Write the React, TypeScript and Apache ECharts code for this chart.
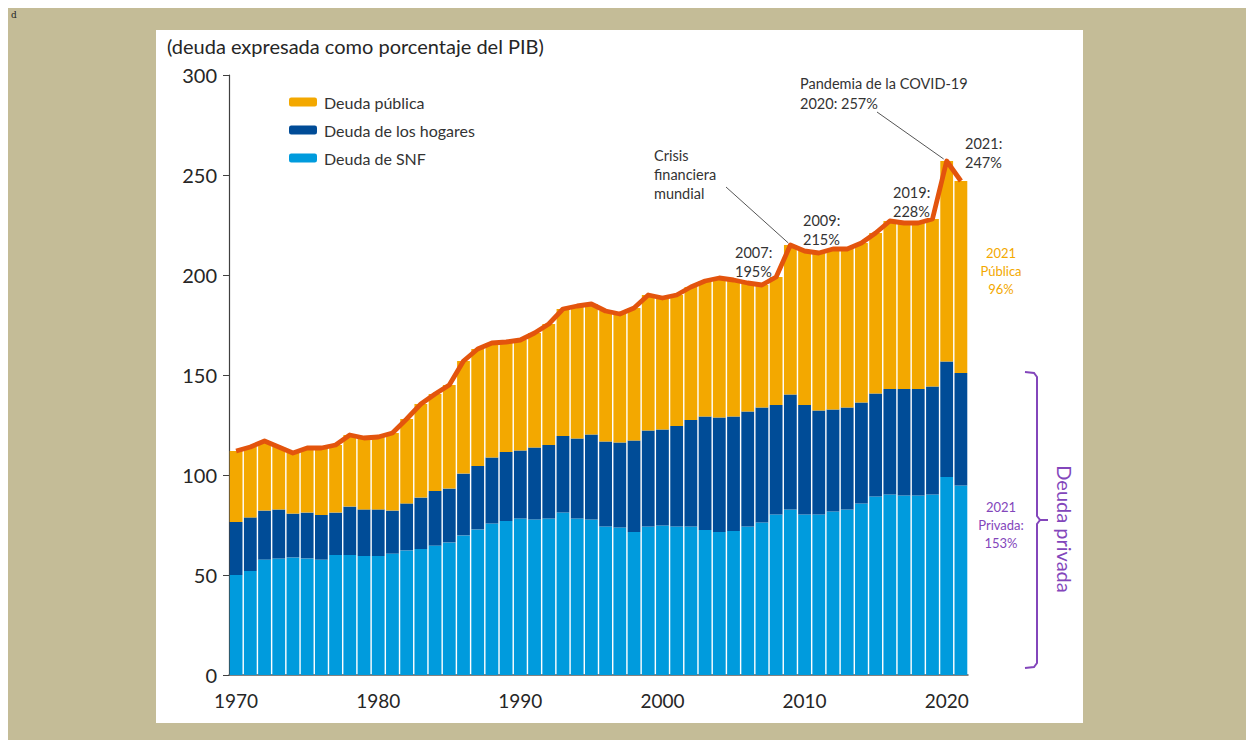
import React, { useEffect, useRef } from "react";
import * as echarts from "echarts";

const years = [
  "1970", "1971", "1972", "1973", "1974", "1975", "1976", "1977", "1978", "1979",
  "1980", "1981", "1982", "1983", "1984", "1985", "1986", "1987", "1988", "1989",
  "1990", "1991", "1992", "1993", "1994", "1995", "1996", "1997", "1998", "1999",
  "2000", "2001", "2002", "2003", "2004", "2005", "2006", "2007", "2008", "2009",
  "2010", "2011", "2012", "2013", "2014", "2015", "2016", "2017", "2018", "2019",
  "2020", "2021",
];

const deudaSNF = [
  50, 52, 57.7, 58.2, 58.8, 58.3, 57.7, 60, 60, 59.5,
  59.5, 60.7, 62.3, 63, 64.7, 66.3, 69.8, 72.8, 75.8, 77,
  78.2, 77.7, 78.2, 81.2, 78.2, 77.7, 74.2, 73.7, 71.5, 74.2,
  74.8, 74.2, 74.2, 72.5, 71.5, 72, 74.2, 76.2, 80.2, 82.8,
  80.2, 80.2, 81.8, 82.8, 85.8, 89.2, 90.3, 89.8, 89.8, 90.3,
  99, 94.8,
];

const deudaHogares = [
  26.5, 26.8, 24.5, 24.6, 21.9, 22.9, 22.3, 21.2, 24.2, 23.3,
  23.3, 21.5, 23.5, 25.7, 27.3, 26.9, 30.9, 31.7, 32.9, 34.5,
  34.0, 36.1, 36.8, 38.3, 40.1, 42.5, 42.5, 42.5, 45.7, 48.0,
  48.0, 50.3, 53.3, 56.7, 57.2, 57.2, 57.5, 57.6, 54.8, 57.5,
  54.8, 52.0, 51.0, 51.0, 50.5, 51.6, 52.7, 53.2, 53.2, 53.9,
  57.8, 56.2,
];

const deudaPublica = [
  35.5, 35.2, 34.8, 31.2, 30.3, 32.3, 33.5, 33.8, 35.8, 35.7,
  36.2, 38.8, 42.2, 46.8, 48.5, 51.8, 56.3, 58.5, 57.3, 55.0,
  55.3, 57.2, 60.5, 63.5, 66.2, 65.3, 65.3, 64.3, 66.3, 67.8,
  65.7, 65.5, 66.5, 67.8, 69.8, 68.3, 64.3, 61.2, 64.0, 74.7,
  77.0, 78.8, 80.2, 79.2, 79.7, 80.2, 84.0, 83.0, 83.0, 83.8,
  100.2, 96.0,
];

const yTicks = { min: 0, max: 300, interval: 50 };

const FONT = "Lato, 'Open Sans', sans-serif";
const C_PUB = "#F3A800";
const C_HOG = "#004C97";
const C_SNF = "#009BDD";
const C_LINE = "#E3540D";
const C_PURPLE = "#8346BB";
const C_TEXT = "#333333";

export default function App() {
  const ref = useRef<HTMLDivElement>(null);

  useEffect(() => {
    if (!ref.current) return;
    const chart = echarts.init(ref.current, undefined, { renderer: "svg" });
    const total = deudaSNF.map((v, i) =>
      Math.round((v + deudaHogares[i] + deudaPublica[i]) * 10) / 10
    );

    chart.setOption({
      animation: false,
      backgroundColor: "#ffffff",
      textStyle: { fontFamily: FONT },
      grid: { left: 73, right: 115, top: 45, bottom: 48, containLabel: false },
      legend: {
        orient: "vertical",
        left: 128,
        top: 59,
        itemWidth: 28,
        itemHeight: 9,
        itemGap: 12,
        icon: "roundRect",
        data: ["Deuda pública", "Deuda de los hogares", "Deuda de SNF"],
        textStyle: { fontSize: 16, color: C_TEXT, fontFamily: FONT, padding: [0, 0, 0, 2] },
        selectedMode: false,
      },
      xAxis: {
        type: "category",
        data: years,
        boundaryGap: true,
        axisLine: { show: true, lineStyle: { color: "#595959", width: 1.5 } },
        axisTick: { show: false },
        axisLabel: {
          interval: (i: number) => i % 10 === 0,
          fontSize: 19,
          color: "#262626",
          margin: 16,
          fontFamily: FONT,
        },
        splitLine: { show: false },
      },
      yAxis: {
        type: "value",
        min: yTicks.min,
        max: yTicks.max,
        interval: yTicks.interval,
        axisLine: { show: true, lineStyle: { color: "#404040", width: 1.2 } },
        axisTick: { show: true, inside: false, length: 6, lineStyle: { color: "#404040" } },
        axisLabel: { fontSize: 20, color: "#262626", margin: 12, fontFamily: FONT },
        splitLine: { show: false },
      },
      series: [
        {
          name: "Deuda de SNF",
          type: "bar",
          stack: "deuda",
          data: deudaSNF,
          itemStyle: { color: C_SNF },
          barCategoryGap: "10%",
        },
        {
          name: "Deuda de los hogares",
          type: "bar",
          stack: "deuda",
          data: deudaHogares,
          itemStyle: { color: C_HOG },
          barCategoryGap: "10%",
        },
        {
          name: "Deuda pública",
          type: "bar",
          stack: "deuda",
          data: deudaPublica,
          itemStyle: { color: C_PUB },
          barCategoryGap: "10%",
        },
        {
          name: "Total",
          type: "line",
          data: total,
          symbol: "none",
          z: 10,
          lineStyle: { color: C_LINE, width: 4.8, join: "round" },
        },
      ],
    });

    const p2009 = chart.convertToPixel({ gridIndex: 0 }, [39, total[39]]) as number[];
    const p2020 = chart.convertToPixel({ gridIndex: 0 }, [50, total[50]]) as number[];

    const txt = (text: string, x: number, y: number, extra: any = {}) => ({
      type: "text",
      x,
      y,
      z: 20,
      style: {
        text,
        fill: C_TEXT,
        fontSize: 14.5,
        fontFamily: FONT,
        lineHeight: 19,
        align: "left",
        verticalAlign: "top",
        ...extra,
      },
    });

    chart.setOption({
      graphic: [
        {
          type: "text",
          left: 11,
          top: 6,
          style: {
            text: "(deuda expresada como porcentaje del PIB)",
            fill: "#262626",
            fontSize: 20,
            fontFamily: FONT,
          },
        },
        txt("Pandemia de la COVID-19\n2020: 257%", 644, 43, { lineHeight: 20 }),
        txt("2021:\n247%", 809, 104),
        txt("Crisis\nfinanciera\nmundial", 498, 116),
        txt("2007:\n195%", 579, 213),
        txt("2009:\n215%", 647, 181),
        txt("2019:\n228%", 737, 153),
        txt("2021\nPública\n96%", 845, 214, { align: "center", fill: C_PUB, lineHeight: 18, fontSize: 13 }),
        txt("2021\nPrivada:\n153%", 845, 468, { align: "center", fill: C_PURPLE, lineHeight: 18, fontSize: 13 }),
        {
          type: "line",
          z: 20,
          shape: { x1: 721, y1: 82, x2: p2020[0] - 3, y2: p2020[1] - 2 },
          style: { stroke: "#555555", lineWidth: 1 },
        },
        {
          type: "line",
          z: 20,
          shape: { x1: 570, y1: 157, x2: p2009[0] - 2, y2: p2009[1] - 2 },
          style: { stroke: "#555555", lineWidth: 1 },
        },
        {
          type: "polyline",
          z: 20,
          shape: {
            points: [
              [869, 342], [878, 343], [881, 347], [881, 486], [884, 490],
              [881, 494], [881, 633], [878, 637], [869, 638],
            ],
          },
          style: { stroke: C_PURPLE, lineWidth: 2, fill: null },
        },
        {
          type: "line",
          z: 20,
          shape: { x1: 883, y1: 490, x2: 892, y2: 490 },
          style: { stroke: C_PURPLE, lineWidth: 2 },
        },
        {
          type: "text",
          x: 909,
          y: 499,
          rotation: -Math.PI / 2,
          z: 20,
          style: {
            text: "Deuda privada",
            fill: C_PURPLE,
            fontSize: 20,
            fontFamily: FONT,
            align: "center",
            verticalAlign: "middle",
          },
        },
      ],
    });

    return () => chart.dispose();
  }, []);

  return (
    <div
      style={{
        position: "absolute",
        left: 8,
        top: 8,
        width: 1238,
        height: 732,
        background: "#C4BC97",
      }}
    >
      <span
        style={{
          position: "absolute",
          left: 3,
          top: 2,
          fontSize: 9,
          fontFamily: "'DejaVu Serif', 'Liberation Serif', serif",
          color: "#222",
        }}
      >
        d
      </span>
      <div
        ref={ref}
        style={{
          position: "absolute",
          left: 148,
          top: 22,
          width: 927,
          height: 693,
          background: "#ffffff",
        }}
      />
    </div>
  );
}
